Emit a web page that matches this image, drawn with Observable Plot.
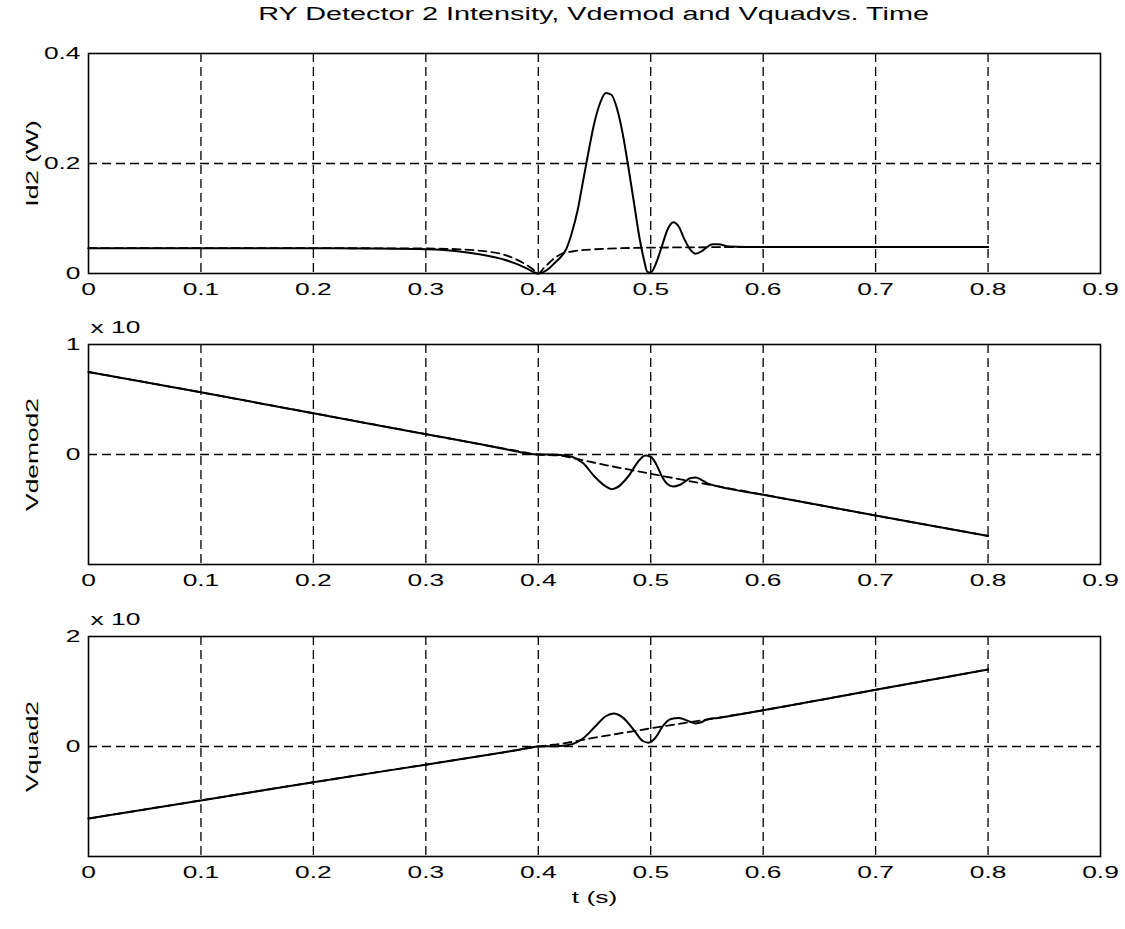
<!DOCTYPE html>
<html>
<head>
<meta charset="utf-8">
<script src="https://cdn.jsdelivr.net/npm/d3@7"></script>
<script src="https://cdn.jsdelivr.net/npm/@observablehq/plot@0.6"></script>
<style>
  html, body { margin: 0; padding: 0; background: white; }
  #wrap { position: relative; width: 1125px; height: 929px; background: white; font-family: "Liberation Sans", Arial, sans-serif; }
  .panel { position: absolute; left: 0; }
  #wrap svg text { font-size: 17px; fill: black; }
  #title { position: absolute; left: 88px; width: 1012px; top: 4px; text-align: center; font-size: 18px; color: black; }
  #title span { display: inline-block; transform: scaleX(1.6); transform-origin: center; }
</style>
</head>
<body>
<div id="wrap">
  <div id="title"><span>RY Detector 2 Intensity, Vdemod and Vquadvs. Time</span></div>
  <div class="panel" id="p1" style="top:23px"></div>
  <div class="panel" id="p2" style="top:314px"></div>
  <div class="panel" id="p3" style="top:606px"></div>
</div>
<script>
// ---- shared axis data ----
const timeTicks = [0, 0.1, 0.2, 0.3, 0.4, 0.5, 0.6, 0.7, 0.8, 0.9];
const timeGrid = [0.1, 0.2, 0.3, 0.4, 0.5, 0.6, 0.7, 0.8];

// ---- panel 1: Id2 (W) ----
const id2SolidT = [0, 0.1, 0.2, 0.25, 0.3, 0.33, 0.35, 0.37, 0.38, 0.39, 0.4, 0.405, 0.41, 0.415, 0.42, 0.425, 0.43, 0.435, 0.44, 0.445, 0.45, 0.455, 0.46, 0.465, 0.47, 0.475, 0.48, 0.485, 0.49, 0.494, 0.497, 0.5, 0.505, 0.51, 0.515, 0.52, 0.525, 0.53, 0.535, 0.54, 0.545, 0.55, 0.555, 0.56, 0.57, 0.6, 0.7, 0.8];
const id2SolidV = [0.046, 0.046, 0.046, 0.0455, 0.044, 0.040, 0.034, 0.025, 0.018, 0.009, 0.0, 0.003, 0.010, 0.020, 0.030, 0.045, 0.075, 0.115, 0.170, 0.225, 0.275, 0.310, 0.328, 0.325, 0.300, 0.255, 0.195, 0.130, 0.065, 0.025, 0.003, 0.002, 0.020, 0.050, 0.080, 0.093, 0.085, 0.062, 0.044, 0.036, 0.040, 0.048, 0.053, 0.053, 0.049, 0.048, 0.048, 0.048];
const id2DashT = [0, 0.1, 0.2, 0.3, 0.33, 0.35, 0.37, 0.38, 0.39, 0.395, 0.4, 0.405, 0.41, 0.415, 0.42, 0.43, 0.45, 0.5, 0.6, 0.7, 0.8];
const id2DashV = [0.046, 0.046, 0.046, 0.0455, 0.044, 0.041, 0.034, 0.026, 0.015, 0.008, 0.0, 0.010, 0.020, 0.029, 0.035, 0.040, 0.044, 0.047, 0.048, 0.048, 0.048];

// ---- panel 2: Vdemod2 (x 10) ----
const vdemSolidT = [0, 0.1, 0.2, 0.3, 0.35, 0.38, 0.39, 0.4, 0.41, 0.42, 0.43, 0.44, 0.45, 0.46, 0.465, 0.47, 0.48, 0.49, 0.495, 0.5, 0.505, 0.51, 0.515, 0.52, 0.525, 0.53, 0.535, 0.54, 0.545, 0.55, 0.56, 0.6, 0.7, 0.8];
const vdemSolidV = [0.75, 0.565, 0.375, 0.185, 0.09, 0.03, 0.01, 0.0, 0.0, -0.005, -0.02, -0.08, -0.2, -0.29, -0.315, -0.30, -0.2, -0.05, -0.01, -0.02, -0.09, -0.2, -0.27, -0.29, -0.28, -0.25, -0.215, -0.21, -0.23, -0.26, -0.29, -0.365, -0.555, -0.74];
const vdemDashT = [0, 0.1, 0.2, 0.3, 0.35, 0.38, 0.4, 0.42, 0.43, 0.45, 0.5, 0.6, 0.7, 0.8];
const vdemDashV = [0.75, 0.565, 0.375, 0.185, 0.09, 0.035, 0.0, -0.01, -0.03, -0.075, -0.175, -0.365, -0.555, -0.74];

// ---- panel 3: Vquad2 (x 10) ----
const vquadSolidT = [0, 0.1, 0.2, 0.3, 0.35, 0.38, 0.4, 0.42, 0.43, 0.44, 0.45, 0.46, 0.467, 0.475, 0.485, 0.493, 0.498, 0.505, 0.51, 0.518, 0.525, 0.535, 0.54, 0.545, 0.55, 0.56, 0.6, 0.7, 0.8];
const vquadSolidV = [-1.31, -0.98, -0.65, -0.33, -0.17, -0.07, 0.0, 0.01, 0.04, 0.15, 0.35, 0.55, 0.60, 0.53, 0.30, 0.10, 0.07, 0.18, 0.35, 0.50, 0.52, 0.45, 0.42, 0.44, 0.49, 0.52, 0.66, 1.03, 1.40];
const vquadDashT = [0, 0.1, 0.2, 0.3, 0.35, 0.38, 0.4, 0.42, 0.45, 0.5, 0.55, 0.6, 0.7, 0.8];
const vquadDashV = [-1.31, -0.98, -0.65, -0.33, -0.17, -0.07, 0.0, 0.05, 0.16, 0.33, 0.49, 0.66, 1.03, 1.40];

const zip = (ts, vs) => ts.map((t, i) => ({t, v: vs[i]}));

function panel({solid, dashed, yDomain, yTicks, yTickLabels, gridY, yLabel, exponent, xLabel}) {
  const marks = [
    Plot.ruleX(timeGrid, {stroke: "black", strokeWidth: 1.3, strokeDasharray: "9,5"}),
    Plot.ruleY(gridY, {stroke: "black", strokeWidth: 1.3, strokeDasharray: "9,5"}),
    Plot.line(dashed, {x: "t", y: "v", stroke: "black", strokeWidth: 1.8, strokeDasharray: "8,5", curve: "monotone-x"}),
    Plot.line(solid, {x: "t", y: "v", stroke: "black", strokeWidth: 2, curve: "monotone-x"}),
    Plot.frame({stroke: "black", strokeWidth: 1.6}),
    Plot.axisX({ticks: timeTicks, tickSize: 0, tickPadding: 9, label: null, tickFormat: d => String(d)}),
    Plot.axisY({ticks: yTicks, tickSize: 0, tickPadding: 8, label: null, tickFormat: (d, i) => yTickLabels[i]}),
    Plot.text([yLabel], {text: d => d, frameAnchor: "left", dx: -56, rotate: -90, lineAnchor: "middle", textAnchor: "middle"})
  ];
  if (exponent) {
    marks.push(Plot.text([exponent], {text: d => d, frameAnchor: "top-left", textAnchor: "start", lineAnchor: "middle", dx: 2, dy: -17}));
  }
  if (xLabel) {
    marks.push(Plot.text([xLabel], {text: d => d, frameAnchor: "bottom", lineAnchor: "middle", dy: 41}));
  }
  return Plot.plot({
    width: 1125,
    height: 30 + 220 + 50,
    marginTop: 30,
    marginBottom: 50,
    marginLeft: 88,
    marginRight: 25,
    style: {fontFamily: "'Liberation Sans', Arial, sans-serif", fontSize: "17px", color: "black", background: "transparent", overflow: "visible"},
    x: {domain: [0, 0.9]},
    y: {domain: yDomain},
    marks
  });
}

const specs = [
  ["p1", {solid: zip(id2SolidT, id2SolidV), dashed: zip(id2DashT, id2DashV),
    yDomain: [0, 0.4], yTicks: [0, 0.2, 0.4], yTickLabels: ["0", "0.2", "0.4"], gridY: [0.2], yLabel: "Id2 (W)"}],
  ["p2", {solid: zip(vdemSolidT, vdemSolidV), dashed: zip(vdemDashT, vdemDashV),
    yDomain: [-1, 1], yTicks: [0, 1], yTickLabels: ["0", "1"], gridY: [0], yLabel: "Vdemod2", exponent: "x 10"}],
  ["p3", {solid: zip(vquadSolidT, vquadSolidV), dashed: zip(vquadDashT, vquadDashV),
    yDomain: [-2, 2], yTicks: [0, 2], yTickLabels: ["0", "2"], gridY: [0], yLabel: "Vquad2", exponent: "x 10", xLabel: "t (s)"}]
];
for (const [id, spec] of specs) {
  const el = document.getElementById(id);
  el.appendChild(panel(spec));
  // widen glyphs horizontally to match the scanned reference's wide lettering
  el.querySelectorAll("text").forEach(t => {
    const len = t.getComputedTextLength();
    if (len > 0) {
      t.setAttribute("textLength", (len * 1.55).toFixed(1));
      t.setAttribute("lengthAdjust", "spacingAndGlyphs");
    }
  });
}
</script>
</body>
</html>
